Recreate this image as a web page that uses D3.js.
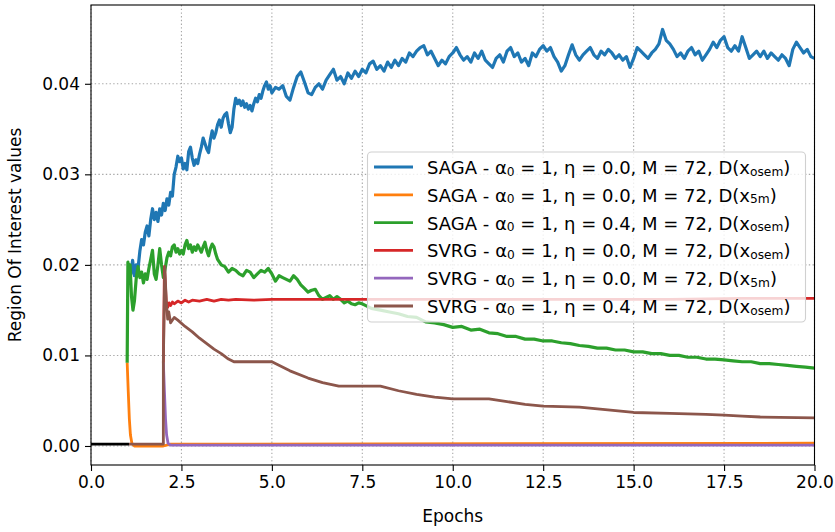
<!DOCTYPE html>
<html>
<head>
<meta charset="utf-8">
<script src="https://cdn.jsdelivr.net/npm/d3@7"></script>
<style>
  html, body { margin: 0; padding: 0; background: #fff; }
  svg { display: block; font-family: "DejaVu Sans", sans-serif; }
</style>
</head>
<body>
<svg id="chart" width="835" height="532"></svg>
<script>
// ---------------- DATA ----------------
const xTicks = [0, 2.5, 5, 7.5, 10, 12.5, 15, 17.5, 20];
const yTicks = [0, 0.01, 0.02, 0.03, 0.04];

const seriesNames = [
  {alg: "SAGA", eta: "0.0", ref: "osem"},
  {alg: "SAGA", eta: "0.0", ref: "5m"},
  {alg: "SAGA", eta: "0.4", ref: "osem"},
  {alg: "SVRG", eta: "0.0", ref: "osem"},
  {alg: "SVRG", eta: "0.0", ref: "5m"},
  {alg: "SVRG", eta: "0.4", ref: "osem"}
];
const seriesColors = ["#1f77b4", "#ff7f0e", "#2ca02c", "#d62728", "#9467bd", "#8c564b"];

const initLine = [[0, 0.0002], [1.05, 0.0002]];

const sagaOsem = [
  [1.05,0.0200],[1.1,0.0190],[1.15,0.0205],[1.2,0.0188],[1.25,0.0200],[1.3,0.0196],[1.35,0.0215],[1.4,0.0228],[1.45,0.0222],[1.5,0.0236],
  [1.55,0.0243],[1.6,0.0232],[1.65,0.0250],[1.7,0.0262],[1.75,0.0250],[1.8,0.0258],[1.85,0.0248],[1.9,0.0262],[1.95,0.0255],[2.0,0.0268],
  [2.05,0.0260],[2.1,0.0273],[2.15,0.0266],[2.2,0.0280],[2.25,0.0276],[2.3,0.0300],[2.35,0.0308],[2.4,0.0320],[2.45,0.0314],[2.5,0.0318],
  [2.55,0.0306],[2.6,0.0312],[2.65,0.0305],[2.7,0.0325],[2.75,0.0330],[2.8,0.0318],[2.85,0.0310],[2.9,0.0316],[2.95,0.0312],[3.0,0.0322],
  [3.05,0.0330],[3.1,0.0340],[3.15,0.0334],[3.2,0.0328],[3.25,0.0324],[3.3,0.0338],[3.35,0.0348],[3.4,0.0340],[3.45,0.0346],[3.5,0.0355],
  [3.55,0.0360],[3.6,0.0352],[3.65,0.0362],[3.7,0.0366],[3.75,0.0368],[3.8,0.0356],[3.85,0.0346],[3.9,0.0352],[3.95,0.0372],[4.0,0.0384],
  [4.05,0.0378],[4.1,0.0382],[4.15,0.0376],[4.2,0.0381],[4.25,0.0374],[4.3,0.0378],[4.35,0.0372],[4.4,0.0376],[4.45,0.0370],[4.5,0.0378],
  [4.55,0.0384],[4.6,0.0380],[4.65,0.0388],[4.7,0.0384],[4.75,0.0392],[4.8,0.0398],[4.85,0.0402],[4.9,0.0394],[4.95,0.0398],[5.0,0.0390],
  [5.1,0.0396],[5.2,0.0394],[5.3,0.0398],[5.4,0.0386],[5.5,0.0382],[5.6,0.0396],[5.7,0.0408],[5.8,0.0413],[5.9,0.0402],[6.0,0.0390],
  [6.1,0.0388],[6.2,0.0396],[6.3,0.0400],[6.4,0.0394],[6.5,0.0404],[6.6,0.0410],[6.7,0.0416],[6.8,0.0404],[6.9,0.0408],[7.0,0.0400],
  [7.1,0.0412],[7.2,0.0406],[7.3,0.0414],[7.4,0.0408],[7.5,0.0416],[7.6,0.0412],[7.7,0.0422],[7.8,0.0425],[7.9,0.0416],[8.0,0.0420],
  [8.1,0.0414],[8.2,0.0424],[8.3,0.0418],[8.4,0.0426],[8.5,0.0420],[8.6,0.0428],[8.7,0.0424],[8.8,0.0434],[8.9,0.0430],[9.0,0.0436],
  [9.1,0.0440],[9.2,0.0442],[9.3,0.0432],[9.4,0.0436],[9.5,0.0428],[9.6,0.0420],[9.7,0.0426],[9.8,0.0422],[9.9,0.0430],[10.0,0.0434],
  [10.1,0.0440],[10.2,0.0432],[10.3,0.0426],[10.4,0.0430],[10.5,0.0424],[10.6,0.0434],[10.7,0.0428],[10.8,0.0436],[10.9,0.0426],[11.0,0.0422],
  [11.1,0.0418],[11.2,0.0428],[11.3,0.0432],[11.4,0.0424],[11.5,0.0436],[11.6,0.0440],[11.7,0.0430],[11.8,0.0434],[11.9,0.0424],[12.0,0.0428],
  [12.1,0.0420],[12.2,0.0434],[12.3,0.0430],[12.4,0.0438],[12.5,0.0442],[12.6,0.0436],[12.7,0.0440],[12.8,0.0430],[12.9,0.0424],[13.0,0.0414],
  [13.1,0.0420],[13.2,0.0432],[13.3,0.0443],[13.4,0.0432],[13.5,0.0426],[13.6,0.0432],[13.7,0.0436],[13.8,0.0440],[13.9,0.0432],[14.0,0.0428],
  [14.1,0.0436],[14.2,0.0432],[14.3,0.0438],[14.4,0.0434],[14.5,0.0428],[14.6,0.0432],[14.7,0.0426],[14.8,0.0430],[14.9,0.0418],[15.0,0.0428],
  [15.1,0.0440],[15.2,0.0436],[15.3,0.0432],[15.4,0.0428],[15.5,0.0434],[15.6,0.0438],[15.7,0.0444],[15.8,0.0460],[15.9,0.0448],[16.0,0.0444],
  [16.1,0.0438],[16.2,0.0430],[16.3,0.0434],[16.4,0.0428],[16.5,0.0436],[16.6,0.0440],[16.7,0.0432],[16.8,0.0436],[16.9,0.0426],[17.0,0.0432],
  [17.1,0.0438],[17.2,0.0446],[17.3,0.0440],[17.4,0.0448],[17.5,0.0452],[17.6,0.0440],[17.7,0.0436],[17.8,0.0442],[17.9,0.0436],[18.0,0.0452],
  [18.1,0.0440],[18.2,0.0428],[18.3,0.0432],[18.4,0.0436],[18.5,0.0430],[18.6,0.0436],[18.7,0.0428],[18.8,0.0434],[18.9,0.0430],[19.0,0.0426],
  [19.1,0.0432],[19.2,0.0428],[19.3,0.0420],[19.4,0.0438],[19.5,0.0446],[19.6,0.0440],[19.7,0.0434],[19.8,0.0438],[19.9,0.0430],[20.0,0.0428]
];

const saga5m = [
  [1.0,0.0092],[1.03,0.0060],[1.06,0.0030],[1.09,0.0012],[1.13,0.0003],[1.2,0.0],[2.0,0.0],[2.2,0.0002],[20,0.0003]
];

const sagaOsemEta = [
  [1.0,0.0092],[1.02,0.0203],[1.05,0.0190],[1.08,0.0200],[1.12,0.0165],[1.16,0.0150],[1.2,0.0160],[1.25,0.0185],[1.3,0.0198],[1.35,0.0186],
  [1.4,0.0192],[1.45,0.0180],[1.5,0.0190],[1.55,0.0184],[1.6,0.0196],[1.65,0.0206],[1.7,0.0216],[1.75,0.0190],[1.8,0.0184],[1.85,0.0200],
  [1.9,0.0218],[1.95,0.0200],[2.0,0.0186],[2.05,0.0196],[2.1,0.0208],[2.15,0.0214],[2.2,0.0210],[2.25,0.0220],[2.3,0.0222],[2.35,0.0214],
  [2.4,0.0218],[2.45,0.0212],[2.5,0.0216],[2.55,0.0212],[2.6,0.0222],[2.65,0.0227],[2.7,0.0218],[2.75,0.0222],[2.8,0.0214],[2.85,0.0220],
  [2.9,0.0216],[2.95,0.0222],[3.0,0.0218],[3.05,0.0214],[3.1,0.0220],[3.15,0.0225],[3.2,0.0216],[3.25,0.0210],[3.3,0.0218],[3.35,0.0223],
  [3.4,0.0220],[3.45,0.0212],[3.5,0.0206],[3.55,0.0203],[3.6,0.0200],[3.7,0.0198],[3.8,0.0192],[3.9,0.0196],[4.0,0.0194],[4.1,0.0190],
  [4.2,0.0188],[4.3,0.0194],[4.4,0.0192],[4.5,0.0186],[4.6,0.0190],[4.7,0.0194],[4.8,0.0192],[4.9,0.0196],[5.0,0.0190],[5.1,0.0182],
  [5.2,0.0188],[5.3,0.0186],[5.4,0.0184],[5.5,0.0182],[5.6,0.0188],[5.7,0.0184],[5.8,0.0178],[5.9,0.0174],[6.0,0.0170],[6.1,0.0172],
  [6.2,0.0173],[6.3,0.0166],[6.4,0.0162],[6.5,0.0164],[6.6,0.0166],[6.7,0.0162],[6.8,0.0165],[6.9,0.0162],[7.0,0.0158],[7.1,0.0160],
  [7.2,0.0157],[7.3,0.0156],[7.4,0.0158],[7.5,0.0157],[7.75,0.0152],[8.0,0.0150],[8.25,0.0148],[8.5,0.0146],[8.75,0.0143],[9.0,0.0142],
  [9.25,0.0137],[9.5,0.0136],[9.75,0.0134],[10.0,0.0131],[10.25,0.0132],[10.5,0.0128],[10.75,0.0129],[11.0,0.0125],[11.25,0.0124],[11.5,0.0121],
  [11.75,0.0121],[12.0,0.0118],[12.25,0.0118],[12.5,0.0116],[12.75,0.0116],[13.0,0.0114],[13.25,0.0113],[13.5,0.0111],[13.75,0.0110],[14.0,0.0108],
  [14.25,0.0108],[14.5,0.0106],[14.75,0.0106],[15.0,0.0104],[15.25,0.0104],[15.5,0.0102],[15.75,0.0102],[16.0,0.0100],[16.25,0.0100],[16.5,0.0098],
  [16.75,0.0098],[17.0,0.0096],[17.25,0.0096],[17.5,0.0095],[17.75,0.0094],[18.0,0.0093],[18.25,0.0093],[18.5,0.0091],[18.75,0.0091],[19.0,0.0090],
  [19.25,0.0089],[19.5,0.0088],[19.75,0.0087],[20.0,0.0086]
];

const svrgOsem = [
  [2.0,0.0092],[2.03,0.0198],[2.08,0.0160],[2.12,0.0153],[2.16,0.0158],[2.2,0.0155],[2.25,0.0159],[2.3,0.0157],[2.4,0.0160],[2.5,0.0158],
  [2.6,0.0161],[2.7,0.0159],[2.8,0.0161],[3.0,0.0160],[3.2,0.0162],[3.4,0.0160],[3.6,0.0162],[3.8,0.0161],[4.0,0.0162],[4.5,0.0161],
  [5.0,0.0162],[6.0,0.0162],[7.0,0.0162],[8.0,0.0162],[10.0,0.0162],[12.0,0.0162],[14.0,0.0162],[16.0,0.0162],[18.0,0.0163],[20.0,0.0163]
];

const svrg5m = [
  [2.0,0.0092],[2.03,0.0060],[2.06,0.0030],[2.09,0.0012],[2.13,0.0003],[2.2,0.0001],[20,0.0001]
];

const svrgOsemEta = [
  [1.05,0.0002],[2.0,0.0002],[2.0,0.0092],[2.04,0.0198],[2.08,0.0160],[2.12,0.0140],[2.15,0.0148],[2.2,0.0136],[2.3,0.0142],[2.4,0.0139],
  [2.6,0.0132],[2.8,0.0126],[3.0,0.0119],[3.2,0.0113],[3.4,0.0107],[3.6,0.0102],[3.8,0.0096],[3.95,0.0093],[5.0,0.0093],[5.5,0.0083],
  [6.0,0.0075],[6.4,0.0070],[6.85,0.0066],[8.0,0.0066],[8.5,0.0061],[9.0,0.0057],[9.5,0.0054],[10.0,0.0052],[11.0,0.0052],[11.5,0.0049],
  [12.0,0.0046],[12.5,0.0044],[13.5,0.0043],[14.0,0.0041],[14.5,0.0039],[15.0,0.0037],[16.0,0.0036],[17.0,0.0035],[17.5,0.0034],[18.0,0.0033],
  [18.5,0.0032],[20.0,0.0031]
];

const seriesData = [sagaOsem, saga5m, sagaOsemEta, svrgOsem, svrg5m, svrgOsemEta];
const seriesWidths = [3.2, 2.8, 3.2, 2.8, 2.8, 2.8];

// ---------------- LAYOUT ----------------
const svg = d3.select("#chart");
const L = 91, R = 814.5, T = 5, B = 465;
const x = d3.scaleLinear().domain([0, 20]).range([L, R]);
const y = d3.scaleLinear().domain([-0.0021, 0.0487]).range([B, T]);
const FS = 17;
const LFS = 18;

// grid
const grid = svg.append("g");
grid.selectAll("line.gx").data(xTicks).join("line")
  .attr("x1", d => x(d)).attr("x2", d => x(d)).attr("y1", T).attr("y2", B)
  .attr("stroke", "#a8a8a8").attr("stroke-width", 1.1).attr("stroke-dasharray", "1.4,2.3");
grid.selectAll("line.gy").data(yTicks).join("line")
  .attr("x1", L).attr("x2", R).attr("y1", d => y(d)).attr("y2", d => y(d))
  .attr("stroke", "#a8a8a8").attr("stroke-width", 1.1).attr("stroke-dasharray", "1.4,2.3");

// clip
svg.append("clipPath").attr("id", "clip").append("rect")
  .attr("x", L).attr("y", T).attr("width", R - L).attr("height", B - T);

const line = d3.line().x(d => x(d[0])).y(d => y(d[1]));
const lines = svg.append("g").attr("clip-path", "url(#clip)");

lines.append("path").datum(initLine).attr("d", line)
  .attr("fill", "none").attr("stroke", "#000").attr("stroke-width", 2.8);

seriesData.forEach((s, i) => {
  lines.append("path").datum(s).attr("d", line)
    .attr("fill", "none").attr("stroke", seriesColors[i])
    .attr("stroke-width", seriesWidths[i]).attr("stroke-linejoin", "round").attr("stroke-linecap", "butt");
});

// axes
const xAxis = d3.axisBottom(x).tickValues(xTicks).tickFormat(d3.format(".1f")).tickSize(6).tickPadding(5);
const yAxis = d3.axisLeft(y).tickValues(yTicks).tickFormat(d3.format(".2f")).tickSize(6).tickPadding(5);
const gx = svg.append("g").attr("transform", `translate(0,${B})`).call(xAxis);
const gy = svg.append("g").attr("transform", `translate(${L},0)`).call(yAxis);
[gx, gy].forEach(g => {
  g.select(".domain").remove();
  g.selectAll("text").attr("font-size", FS).attr("font-family", "DejaVu Sans").attr("fill", "#000");
  g.selectAll("line").attr("stroke", "#000").attr("stroke-width", 1.1);
});

// frame
svg.append("rect").attr("x", L).attr("y", T).attr("width", R - L).attr("height", B - T)
  .attr("fill", "none").attr("stroke", "#000").attr("stroke-width", 1.1);

// labels
svg.append("text").attr("x", (L + R) / 2).attr("y", 522).attr("text-anchor", "middle")
  .attr("font-size", FS).text("Epochs");
svg.append("text").attr("transform", `translate(21,${(T + B) / 2}) rotate(-90)`)
  .attr("text-anchor", "middle").attr("font-size", FS).text("Region Of Interest values");

// legend
const lg = svg.append("g");
const lx = 367.5, ly = 152, lw = 438, lh = 170;
lg.append("rect").attr("x", lx).attr("y", ly).attr("width", lw).attr("height", lh)
  .attr("rx", 4).attr("fill", "rgba(255,255,255,0.8)").attr("stroke", "#d0d0d0").attr("stroke-width", 1.1);
const rowY = i => 167 + i * 27.8;
seriesNames.forEach((s, i) => {
  lg.append("line").attr("x1", 374).attr("x2", 413).attr("y1", rowY(i)).attr("y2", rowY(i))
    .attr("stroke", seriesColors[i]).attr("stroke-width", 2.8);
  const t = lg.append("text").attr("x", 427).attr("y", rowY(i) + 7).attr("font-size", LFS);
  t.append("tspan").text(`${s.alg} - α`);
  t.append("tspan").attr("font-size", LFS * 0.68).attr("dy", 1.5).text("0");
  t.append("tspan").attr("dy", -1.5).text(` = 1, η = ${s.eta}, M = 72, D(x`);
  t.append("tspan").attr("font-size", LFS * 0.68).attr("dy", 1.5).text(s.ref);
  t.append("tspan").attr("dy", -1.5).text(")");
});
</script>
</body>
</html>
